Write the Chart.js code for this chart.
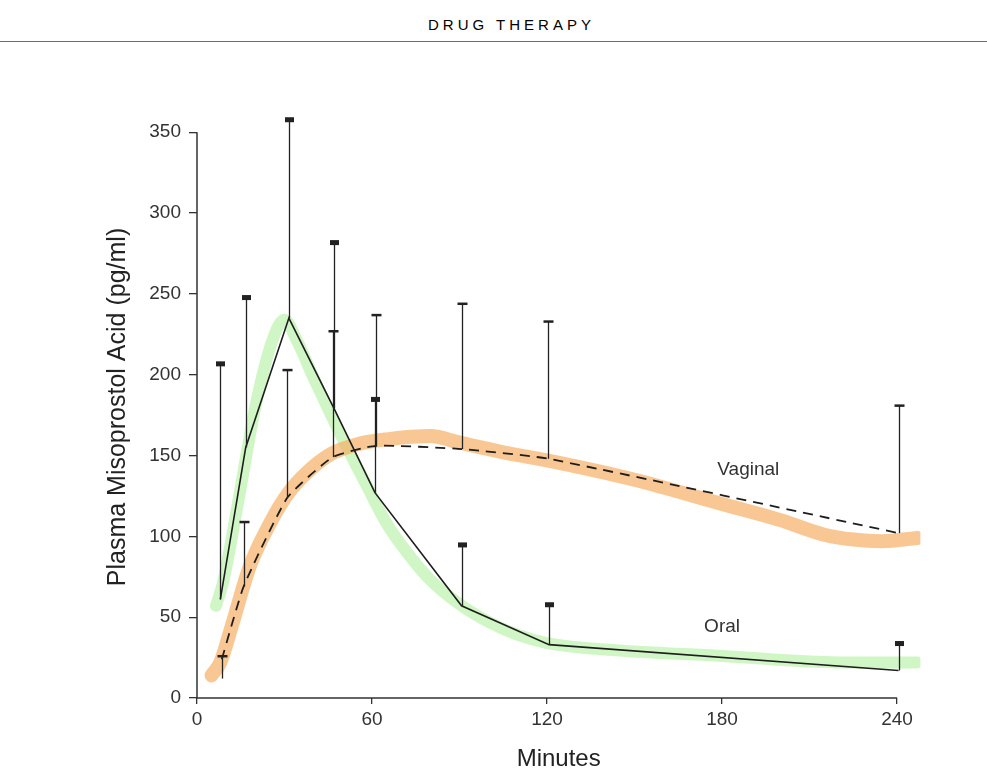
<!DOCTYPE html>
<html>
<head>
<meta charset="utf-8">
<title>Plasma Misoprostol Acid</title>
<script src="https://cdn.jsdelivr.net/npm/chart.js@4.4.1/dist/chart.umd.min.js"></script>
<style>
	html, body { margin:0; padding:0; background:#fff; }
	#page { position:relative; width:987px; height:774px; overflow:hidden; background:#fff; }
	#header { position:absolute; left:428px; top:16px; font:15px "Liberation Sans", Arial, sans-serif; letter-spacing:4px; color:#000; white-space:nowrap; }
	#rule { position:absolute; left:0; top:41px; width:987px; height:0; border-top:1.5px solid #6e6e6e; }
	#chart { position:absolute; left:0; top:0; }
</style>
</head>
<body>
<div id="page">
	<div id="header">DRUG THERAPY</div>
	<div id="rule"></div>
	<canvas id="chart" width="987" height="774"></canvas>
</div>
<script>
//======================================================================================================
// Data (minutes, pg/ml)
//======================================================================================================
var xTicks = [0, 60, 120, 180, 240];
var yTicks = [0, 50, 100, 150, 200, 250, 300, 350];

// Oral: solid line, mean values and upper end of each error bar
var oralT     = [8, 16.7, 31.5, 47, 61, 90.7, 120.7, 240.5];
var oralMean  = [61, 155, 235, 179, 127, 57, 33, 17];
var oralUpper = [207, 248, 358, 282, 185, 95, 58, 34];

// Vaginal: dashed line, mean values, error bar ends
var vagT      = [8.5, 16, 31, 46.5, 61.3, 90.7, 120.5, 240.5];
var vagMean   = [24, 69, 124, 149, 156, 154, 148, 102];
var vagLower  = [12, 69, 124, 149, 156, 154, 148, 102];
var vagUpper  = [26, 109, 203, 227, 237, 244, 233, 181];

// Highlighter strokes drawn over the printed curves
var greenT = [6.5, 9, 14, 20, 26, 30, 34, 40, 46, 52, 58, 65, 72, 80, 90, 100, 110, 120, 140, 180, 220, 247];
var greenV = [57, 72, 120, 180, 222, 234, 222, 198, 175, 153, 132, 108, 90, 73, 58, 47, 39, 34, 30, 26, 22, 22];
var orangeT = [5, 8, 12, 18, 25, 31, 38, 46, 55, 65, 80, 90, 105, 120, 150, 180, 200, 215, 225, 235, 247];
var orangeV = [14, 22, 45, 81, 108, 126, 140, 151, 157, 160, 162, 158, 152, 147, 135, 120, 110, 101, 98, 97, 99];

var FONT = '"Liberation Sans", Arial, sans-serif';

function Points(xs, ys)
{
	var out = [];
	for (var i = 0; i < xs.length; i++)
		out.push({ x: xs[i], y: ys[i] });
	return out;
}

//======================================================================================================
// Plugin: axis lines, error bars and the two curve labels
//======================================================================================================
var figurePlugin = {
	id: 'figure',
	beforeDatasetsDraw: function(chart) {
		var ctx = chart.ctx, xs = chart.scales.x, ys = chart.scales.y;
		ctx.save();
		ctx.strokeStyle = '#333';
		ctx.lineWidth = 1.5;
		ctx.beginPath();
		ctx.moveTo(xs.getPixelForValue(0), ys.getPixelForValue(350));
		ctx.lineTo(xs.getPixelForValue(0), ys.getPixelForValue(0));
		ctx.lineTo(xs.getPixelForValue(240), ys.getPixelForValue(0));
		ctx.stroke();
		ctx.restore();
	},
	afterDatasetsDraw: function(chart) {
		var ctx = chart.ctx, xs = chart.scales.x, ys = chart.scales.y;
		var i, px, top, bot;
		ctx.save();
		ctx.strokeStyle = '#222';
		ctx.fillStyle = '#222';
		ctx.lineWidth = 1.3;

		// oral bars: thick block cap
		for (i = 0; i < oralT.length; i++)
		{
			px = Math.round(xs.getPixelForValue(oralT[i])) + 0.5;
			top = ys.getPixelForValue(oralUpper[i]);
			bot = ys.getPixelForValue(oralMean[i]);
			ctx.beginPath();
			ctx.moveTo(px, bot);
			ctx.lineTo(px, top);
			ctx.stroke();
			ctx.fillRect(px - 4.5, top - 2, 9, 5);
		}

		// vaginal bars: thin cap
		for (i = 0; i < vagT.length; i++)
		{
			px = Math.round(xs.getPixelForValue(vagT[i])) + 0.5;
			top = ys.getPixelForValue(vagUpper[i]);
			bot = ys.getPixelForValue(vagLower[i]);
			ctx.beginPath();
			ctx.moveTo(px, bot);
			ctx.lineTo(px, top);
			ctx.stroke();
			ctx.fillRect(px - 5, top - 1, 10, 2.5);
		}

		// curve labels
		ctx.fillStyle = '#333';
		ctx.font = '19px ' + FONT;
		ctx.textAlign = 'center';
		ctx.textBaseline = 'middle';
		ctx.fillText('Vaginal', xs.getPixelForValue(189), ys.getPixelForValue(141));
		ctx.fillText('Oral', xs.getPixelForValue(180), ys.getPixelForValue(44));
		ctx.restore();
	}
};

//======================================================================================================
// Chart
//======================================================================================================
new Chart(document.getElementById('chart'), {
	type: 'line',
	data: {
		datasets: [
			{
				label: 'Oral',
				data: Points(oralT, oralMean),
				borderColor: '#1e1e1e',
				borderWidth: 1.6,
				pointRadius: 0,
				tension: 0,
				order: 0
			},
			{
				label: 'Vaginal',
				data: Points(vagT, vagMean),
				borderColor: '#1e1e1e',
				borderWidth: 1.8,
				borderDash: [10, 7],
				pointRadius: 0,
				tension: 0.15,
				order: 1
			},
			{
				label: 'oral highlight',
				data: Points(greenT, greenV),
				borderColor: 'rgba(170, 238, 150, 0.55)',
				borderWidth: 12,
				borderCapStyle: 'round',
				pointRadius: 0,
				cubicInterpolationMode: 'monotone',
				order: 3
			},
			{
				label: 'vaginal highlight',
				data: Points(orangeT, orangeV),
				borderColor: 'rgba(246, 172, 98, 0.68)',
				borderWidth: 14,
				borderCapStyle: 'round',
				pointRadius: 0,
				cubicInterpolationMode: 'monotone',
				order: 2
			}
		]
	},
	options: {
		responsive: false,
		animation: false,
		layout: { padding: { left: 100, top: 116, right: 66.6, bottom: 0 } },
		plugins: {
			legend: { display: false },
			tooltip: { enabled: false }
		},
		scales: {
			x: {
				type: 'linear',
				min: 0,
				max: 248,
				afterBuildTicks: function(s) { s.ticks = xTicks.map(function(v) { return { value: v }; }); },
				afterFit: function(s) { s.height = 76; },
				grid: { drawOnChartArea: false, drawTicks: true, tickLength: 6, color: '#333', lineWidth: 1.3 },
				border: { display: false },
				ticks: { padding: 4, color: '#333', font: { family: FONT, size: 19 }, maxRotation: 0 },
				title: { display: true, text: 'Minutes', color: '#222', font: { family: FONT, size: 24 }, padding: { top: 0, bottom: 0 } }
			},
			y: {
				type: 'linear',
				min: 0,
				max: 360,
				afterBuildTicks: function(s) { s.ticks = yTicks.map(function(v) { return { value: v }; }); },
				afterFit: function(s) { s.width = 97; },
				grid: { drawOnChartArea: false, drawTicks: true, tickLength: 8, color: '#333', lineWidth: 1.3 },
				border: { display: false },
				ticks: { padding: 8, color: '#333', font: { family: FONT, size: 19 } },
				title: { display: true, text: 'Plasma Misoprostol Acid (pg/ml)', color: '#222', font: { family: FONT, size: 25 }, padding: { top: 3, bottom: 0 } }
			}
		}
	},
	plugins: [figurePlugin]
});
</script>
</body>
</html>
